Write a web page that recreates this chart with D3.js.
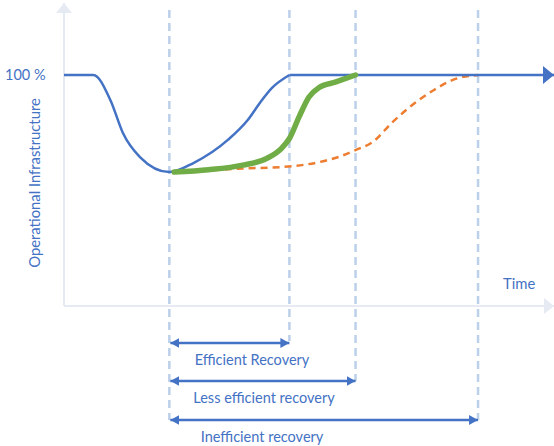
<!DOCTYPE html>
<html>
<head>
<meta charset="utf-8">
<script src="https://cdn.jsdelivr.net/npm/d3@7"></script>
<style>
  body { margin: 0; background: #fff; }
  text { font-family: Lato, "Liberation Sans", sans-serif; fill: #4472c4; }
</style>
</head>
<body>
<svg id="chart"></svg>
<script>
// time is in arbitrary units (0-100), level in % of operational infrastructure
var baseT = [0, 6, 9.5, 12, 15.5, 21.5, 26.5, 33.5, 37.5, 40, 42.5, 46]
  , baseV = [100, 100, 89, 75, 64.5, 58, 62, 72, 80.5, 88, 94.5, 100]
  , lessT = [22.5, 29.5, 36.5, 41.5, 44.5, 46, 48, 50, 52, 55.5, 59.5]
  , lessV = [58, 59, 61, 64, 68.5, 72.5, 82, 90.5, 94.5, 97, 100]
  , slowT = [23, 36.5, 46.5, 53.5, 56, 59.5, 63, 67, 72, 75.5, 79.5, 84.5]
  , slowV = [58, 59.5, 60.5, 63, 64.5, 67.5, 71, 79.5, 88.5, 93.5, 98, 100]
  , markerT = [21.5, 46, 59.5, 84.5]
  , intervalLabels = ["Efficient Recovery", "Less efficient recovery", "Inefficient recovery"]
  , intervalEnds = [46, 59.5, 84.5]
  , yTickLabel = "100 %"
;

var width = 554
  , height = 446
  , blue = "#4472c4"
  , axisColor = "#e6eaf3"
  , guideColor = "#bcd0ea"
;

var svg = d3.select("#chart")
    .attr("width", width)
    .attr("height", height);

var x = d3.scaleLinear().domain([0, 100]).range([64, 554])
  , y = d3.scaleLinear().domain([0, 100]).range([306, 75])
;

function zip(ts, vs) { return ts.map(function(t, i) { return [t, vs[i]]; }); }

var line = d3.line()
    .x(function(d) { return x(d[0]); })
    .y(function(d) { return y(d[1]); })
    .curve(d3.curveMonotoneX);

// arrow markers
var defs = svg.append("defs");
function marker(id, color, len, half) {
    defs.append("marker")
        .attr("id", id)
        .attr("markerUnits", "userSpaceOnUse")
        .attr("viewBox", [0, -half, len, half * 2].join(" "))
        .attr("refX", len).attr("refY", 0)
        .attr("markerWidth", len).attr("markerHeight", half * 2)
        .attr("orient", "auto-start-reverse")
      .append("path")
        .attr("d", "M0," + (-half) + "L" + len + ",0L0," + half + "Z")
        .attr("fill", color);
}
marker("axisHead", axisColor, 10, 8);
marker("blueHead", blue, 11, 9);
marker("spanHead", blue, 9, 5);

// axes
svg.append("line")
    .attr("x1", x(0)).attr("y1", y(0))
    .attr("x2", x(0)).attr("y2", 3)
    .attr("stroke", axisColor).attr("stroke-width", 2)
    .attr("marker-end", "url(#axisHead)");
svg.append("line")
    .attr("x1", x(0)).attr("y1", y(0))
    .attr("x2", 554).attr("y2", y(0))
    .attr("stroke", axisColor).attr("stroke-width", 2)
    .attr("marker-end", "url(#axisHead)");

// vertical guides
var guideBottom = [420, 341, 381, 420];
svg.selectAll(".guide")
    .data(markerT)
  .enter().append("line")
    .attr("class", "guide")
    .attr("x1", function(d) { return x(d); })
    .attr("x2", function(d) { return x(d); })
    .attr("y1", 10)
    .attr("y2", function(d, i) { return guideBottom[i]; })
    .attr("stroke", guideColor)
    .attr("stroke-width", 2.5)
    .attr("stroke-dasharray", "8,5");

// recovery curves
svg.append("path")
    .attr("d", line(zip(slowT, slowV)))
    .attr("fill", "none")
    .attr("stroke", "#ed7d31")
    .attr("stroke-width", 2.5)
    .attr("stroke-dasharray", "7,5");

svg.append("path")
    .attr("d", line(zip(baseT, baseV)))
    .attr("fill", "none")
    .attr("stroke", blue)
    .attr("stroke-width", 2.5);
svg.append("line")
    .attr("x1", x(46)).attr("y1", y(100))
    .attr("x2", x(100)).attr("y2", y(100))
    .attr("stroke", blue).attr("stroke-width", 2.5)
    .attr("marker-end", "url(#blueHead)");

svg.append("path")
    .attr("d", line(zip(lessT, lessV)))
    .attr("fill", "none")
    .attr("stroke", "#70ad47")
    .attr("stroke-width", 5.5)
    .attr("stroke-linecap", "round");

// labels
svg.append("text")
    .attr("x", 5).attr("y", y(100))
    .attr("dy", "0.35em")
    .style("font-size", "14.5px")
    .text(yTickLabel);
svg.append("text")
    .attr("transform", "translate(40," + 183 + ") rotate(-90)")
    .attr("text-anchor", "middle")
    .style("font-size", "14.8px")
    .text("Operational Infrastructure");
svg.append("text")
    .attr("x", 503).attr("y", 289)
    .style("font-size", "14.8px")
    .text("Time");

// recovery spans
var spanY = [343, 381, 420];
var spans = svg.selectAll(".span")
    .data(intervalEnds)
  .enter().append("g")
    .attr("class", "span");
spans.append("line")
    .attr("x1", x(markerT[0]) + 1)
    .attr("x2", function(d) { return x(d); })
    .attr("y1", function(d, i) { return spanY[i]; })
    .attr("y2", function(d, i) { return spanY[i]; })
    .attr("stroke", blue)
    .attr("stroke-width", 2.5)
    .attr("marker-start", "url(#spanHead)")
    .attr("marker-end", "url(#spanHead)");
spans.append("text")
    .attr("x", function(d, i) { return [252, 264, 262][i]; })
    .attr("y", function(d, i) { return spanY[i] + 22; })
    .attr("text-anchor", "middle")
    .style("font-size", "14.5px")
    .text(function(d, i) { return intervalLabels[i]; });
</script>
</body>
</html>
